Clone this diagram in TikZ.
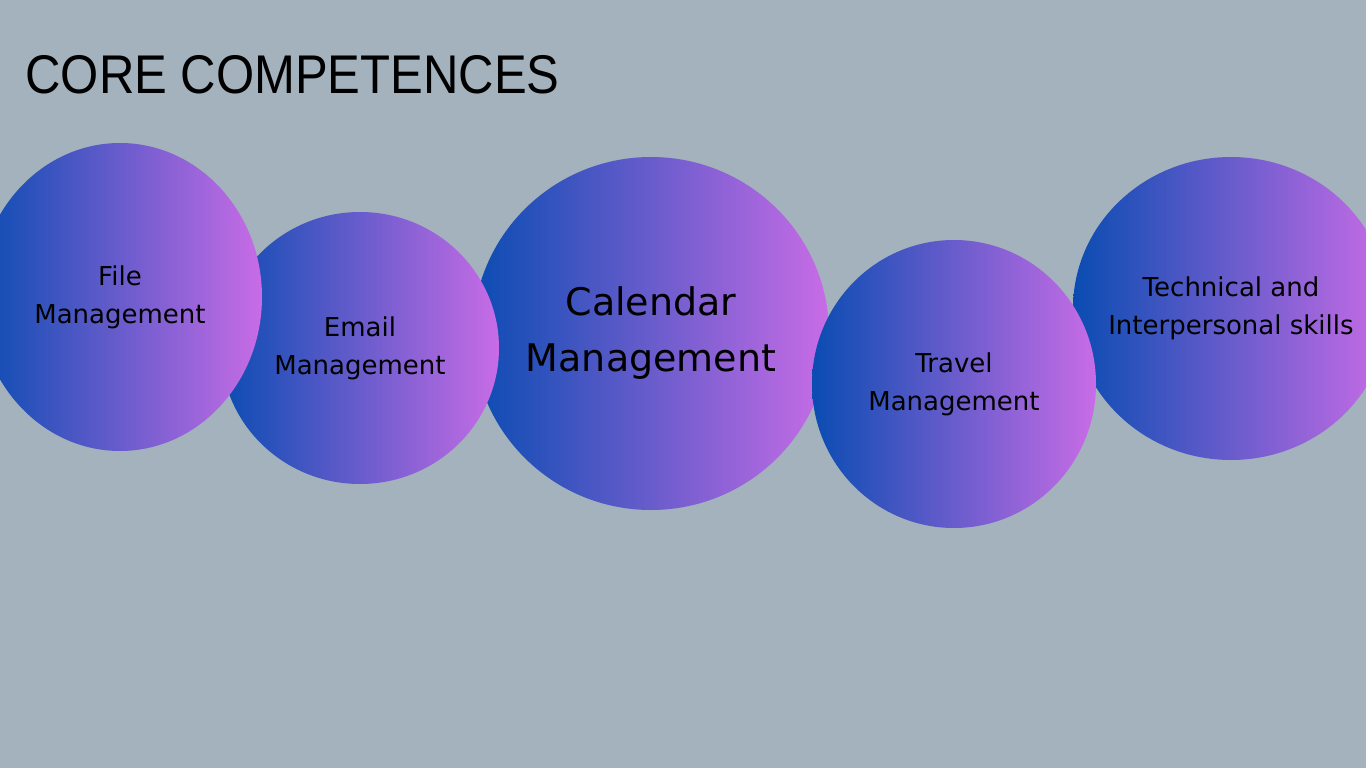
\documentclass[tikz,border=0pt]{standalone}
\usepackage{fontspec}
\setmainfont{DejaVu Sans}
\newfontfamily\titlefont[FakeStretch=0.9]{Liberation Sans}
\usetikzlibrary{shapes.geometric}
\definecolor{bgcol}{RGB}{163,178,188}
\definecolor{gblue}{RGB}{10,76,178}
\definecolor{gpink}{RGB}{200,108,230}

\begin{document}
\begin{tikzpicture}[
  x=1pt, y=-1pt,
  bubble/.style={
    ellipse, inner sep=0pt, left color=gblue, right color=gpink
  },
  txt/.style={text centered, align=center, inner sep=0pt, font=\fontsize{26}{38}\selectfont},
  big/.style={font=\fontsize{38}{56}\selectfont},
  title/.style={anchor=base west, font=\titlefont\fontsize{54.5}{60}\selectfont}
]
\fill[bgcol] (0,0) rectangle (1366,768);
\useasboundingbox (0,0) rectangle (1366,768);

\node[title] (head) at (22,93) {CORE COMPETENCES};

\node[bubble, minimum width=356pt, minimum height=353pt] (cal) at (651,333.5) {};
\node[txt, big] (caltext) at (cal) {Calendar\\Management};
\node[bubble, minimum width=316pt, minimum height=303pt] (tech) at (1231,308.5) {};
\node[txt] (techtext) at (tech) {Technical and\\Interpersonal skills};
\node[bubble, minimum width=278pt, minimum height=272pt] (email) at (360,348) {};
\node[txt] (emailtext) at (email) {Email\\Management};
\node[bubble, minimum width=284pt, minimum height=288pt] (travel) at (954,384) {};
\node[txt] (traveltext) at (travel) {Travel\\Management};
\node[bubble, minimum width=284pt, minimum height=308pt] (file) at (120,297) {};
\node[txt] (filetext) at (file) {File\\Management};

\end{tikzpicture}
\end{document}
